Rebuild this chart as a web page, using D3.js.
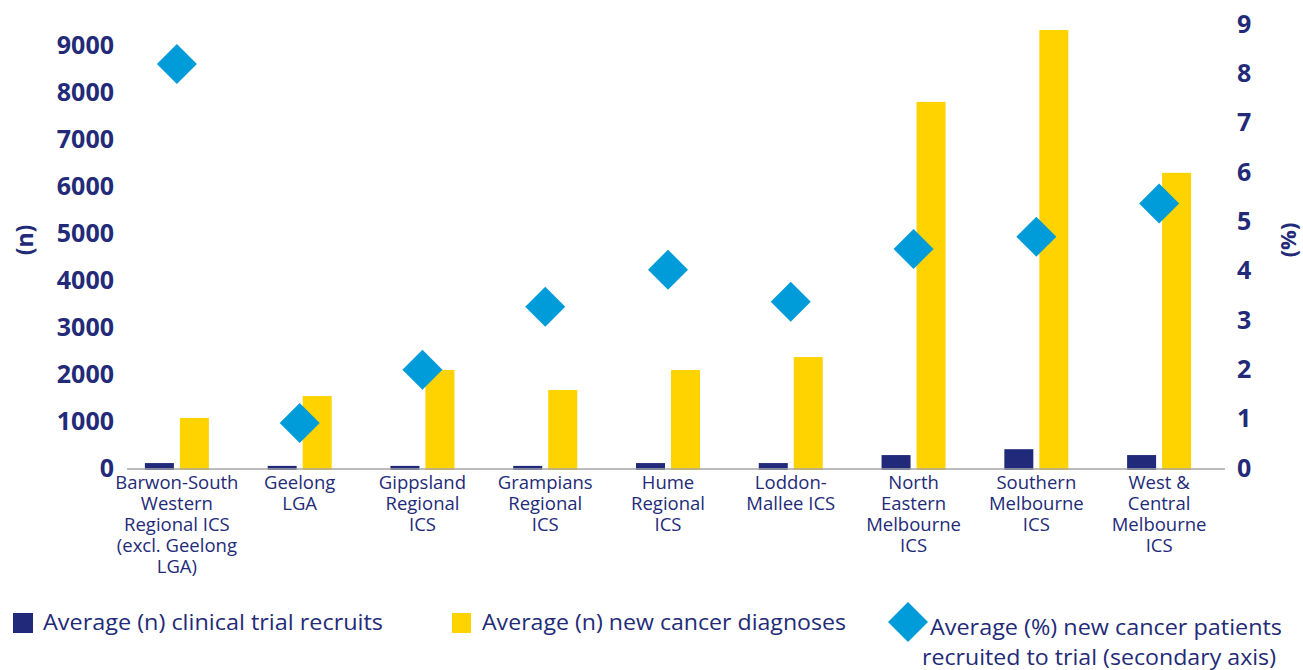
<!DOCTYPE html>
<html>
<head>
<meta charset="utf-8">
<script src="https://cdn.jsdelivr.net/npm/d3@7"></script>
<style>
  html, body { margin: 0; padding: 0; background: #ffffff; }
  svg { display: block; }
  text { font-family: "Open Sans", "Lato", sans-serif; fill: #232b78; }
</style>
</head>
<body>
<svg id="chart" width="1303" height="670"></svg>
<script>
// Category labels (each entry = lines of the wrapped label)
const categories = [
  "Barwon-South Western Regional ICS (excl. Geelong LGA)",
  "Geelong LGA",
  "Gippsland Regional ICS",
  "Grampians Regional ICS",
  "Hume Regional ICS",
  "Loddon-Mallee ICS",
  "North Eastern Melbourne ICS",
  "Southern Melbourne ICS",
  "West & Central Melbourne ICS"
];
const categoryLines = [
  ["Barwon-South", "Western", "Regional ICS", "(excl. Geelong", "LGA)"],
  ["Geelong", "LGA"],
  ["Gippsland", "Regional", "ICS"],
  ["Grampians", "Regional", "ICS"],
  ["Hume", "Regional", "ICS"],
  ["Loddon-", "Mallee ICS"],
  ["North", "Eastern", "Melbourne", "ICS"],
  ["Southern", "Melbourne", "ICS"],
  ["West &", "Central", "Melbourne", "ICS"]
];

// Average (n) clinical trial recruits
const recruits = [105, 45, 45, 45, 105, 105, 275, 400, 275];
// Average (n) new cancer diagnoses
const diagnoses = [1065, 1530, 2085, 1660, 2085, 2360, 7790, 9320, 6280];
// Average (%) new cancer patients recruited to trial (secondary axis)
const percentRecruited = [8.19, 0.91, 1.99, 3.27, 4.02, 3.37, 4.44, 4.69, 5.36];

const leftTicks = [0, 1000, 2000, 3000, 4000, 5000, 6000, 7000, 8000, 9000];
const rightTicks = [0, 1, 2, 3, 4, 5, 6, 7, 8, 9];

const colors = {
  recruits: "#20297a",
  diagnoses: "#ffd300",
  percent: "#009bd9",
  text: "#232b78",
  axis: "#a6a6a6"
};

const svg = d3.select("#chart");

// Scales
const x = d3.scaleBand().domain(categories).range([115.5, 1220.5]);
const xSub = d3.scaleBand()
  .domain(["recruits", "diagnoses"])
  .range([x.bandwidth() / 2 - 32, x.bandwidth() / 2 + 32])
  .paddingInner(6 / 35);
const yL = d3.scaleLinear().domain([0, 9000]).range([468, 45]);
const yR = d3.scaleLinear().domain([0, 9]).range([468, 24]);

// Bars
const groups = svg.append("g").selectAll("g")
  .data(categories)
  .join("g")
  .attr("transform", d => `translate(${x(d)},0)`);

groups.append("rect")
  .attr("x", xSub("recruits"))
  .attr("width", xSub.bandwidth())
  .attr("y", (d, i) => yL(recruits[i]))
  .attr("height", (d, i) => yL(0) - yL(recruits[i]) + 2)
  .attr("fill", colors.recruits);

groups.append("rect")
  .attr("x", xSub("diagnoses"))
  .attr("width", xSub.bandwidth())
  .attr("y", (d, i) => yL(diagnoses[i]))
  .attr("height", (d, i) => yL(0) - yL(diagnoses[i]) + 2)
  .attr("fill", colors.diagnoses);

// Category axis line
svg.append("line")
  .attr("x1", 127).attr("x2", 1225)
  .attr("y1", yL(0) + 1).attr("y2", yL(0) + 1)
  .attr("stroke", colors.axis)
  .attr("stroke-width", 1.5);

// Percentage markers (diamonds)
const diamond = d3.symbol().type(d3.symbolSquare).size(800);
svg.append("g").selectAll("path")
  .data(categories)
  .join("path")
  .attr("d", diamond)
  .attr("transform", (d, i) => `translate(${x(d) + x.bandwidth() / 2},${yR(percentRecruited[i])}) rotate(45)`)
  .attr("fill", colors.percent);

// Left axis
const leftAxis = svg.append("g")
  .attr("transform", "translate(114,0)")
  .call(d3.axisLeft(yL).tickValues(leftTicks).tickSize(0).tickPadding(0).tickFormat(d3.format("d")));
leftAxis.select(".domain").remove();
leftAxis.selectAll("text")
  .attr("font-family", "Lato, 'Open Sans', sans-serif")
  .attr("font-size", 25)
  .attr("font-weight", 700)
  .attr("fill", colors.text);

// Right axis
const rightAxis = svg.append("g")
  .attr("transform", "translate(1237,0)")
  .call(d3.axisRight(yR).tickValues(rightTicks).tickSize(0).tickPadding(0).tickFormat(d3.format("d")));
rightAxis.select(".domain").remove();
rightAxis.selectAll("text")
  .attr("font-family", "Lato, 'Open Sans', sans-serif")
  .attr("font-size", 25)
  .attr("font-weight", 700)
  .attr("fill", colors.text);

// Axis titles
svg.append("text")
  .attr("transform", "translate(24,240) rotate(-90)")
  .attr("text-anchor", "middle")
  .attr("dominant-baseline", "central")
  .attr("font-size", 23)
  .attr("font-weight", 700)
  .text("(n)");
svg.append("text")
  .attr("transform", "translate(1287,240) rotate(-90)")
  .attr("text-anchor", "middle")
  .attr("dominant-baseline", "central")
  .attr("font-size", 22)
  .attr("font-weight", 700)
  .text("(%)");

// Category labels
const labels = svg.append("g").selectAll("text")
  .data(categories)
  .join("text")
  .attr("text-anchor", "middle")
  .attr("font-size", 18.5)
  .attr("transform", d => `translate(${x(d) + x.bandwidth() / 2},${489})`);
labels.selectAll("tspan")
  .data((d, i) => categoryLines[i])
  .join("tspan")
  .attr("x", 0)
  .attr("dy", (d, j) => j === 0 ? 0 : 21)
  .text(d => d);

// Legend
const legend = svg.append("g");
legend.append("rect").attr("x", 13).attr("y", 613).attr("width", 20).attr("height", 20).attr("fill", colors.recruits);
legend.append("text").attr("x", 43).attr("y", 630).attr("font-size", 21)
  .attr("textLength", 340).attr("lengthAdjust", "spacingAndGlyphs")
  .text("Average (n) clinical trial recruits");
legend.append("rect").attr("x", 452).attr("y", 613).attr("width", 19).attr("height", 20).attr("fill", colors.diagnoses);
legend.append("text").attr("x", 482).attr("y", 630).attr("font-size", 21)
  .attr("textLength", 364).attr("lengthAdjust", "spacingAndGlyphs")
  .text("Average (n) new cancer diagnoses");
legend.append("path").attr("d", diamond).attr("transform", "translate(908,622) rotate(45)").attr("fill", colors.percent);
legend.append("text").attr("x", 930).attr("y", 635).attr("font-size", 21)
  .attr("textLength", 352).attr("lengthAdjust", "spacingAndGlyphs")
  .text("Average (%) new cancer patients");
legend.append("text").attr("x", 922).attr("y", 665).attr("font-size", 21)
  .attr("textLength", 354).attr("lengthAdjust", "spacingAndGlyphs")
  .text("recruited to trial (secondary axis)");
</script>
</body>
</html>
